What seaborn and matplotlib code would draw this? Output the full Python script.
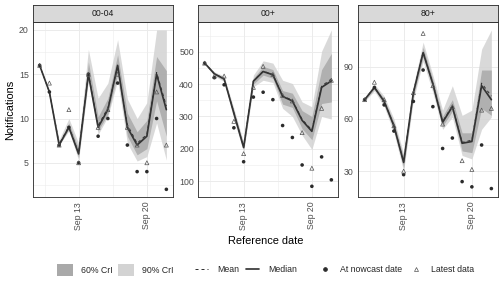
import numpy as np
import pandas as pd
import matplotlib
matplotlib.use("Agg")
import matplotlib.pyplot as plt
import matplotlib.dates as mdates
from matplotlib.patches import Patch
from matplotlib.lines import Line2D
import seaborn as sns

# ---------------- data ----------------
dates = pd.date_range("2021-09-09", "2021-09-22", freq="D")
groups = ["00-04", "00+", "80+"]

median_0004 = [16, 13, 7, 9, 6, 15, 9, 11, 16, 9, 7, 8, 15, 11]
mean_0004 = [16, 13, 7.1, 9.1, 6.1, 15.1, 9.2, 11.2, 15.9, 9.3, 7.2, 8.2, 15.2, 11.4]
lo90_0004 = [16, 13, 7, 8.6, 5.3, 14.2, 8.2, 10.2, 14.3, 7.2, 5.2, 5.7, 9.5, 5.3]
hi90_0004 = [16, 13, 7.6, 10, 7.2, 17.8, 12.3, 14, 18.9, 12.2, 10, 11.8, 20, 20]
lo60_0004 = [16, 13, 7, 8.8, 5.6, 14.6, 8.6, 10.5, 15, 8, 5.9, 6.6, 12, 8]
hi60_0004 = [16, 13, 7.3, 9.5, 6.6, 16.4, 10.2, 12.3, 17.2, 10.6, 8.5, 9.8, 17, 15.4]
nowcast_0004 = [16, 13, 7, 9, 5, 15, 8, 10, 14, 7, 4, 4, 10, 2]
latest_0004 = [16, 14, 7, 11, 5, 15, 9, 11, 15, 9, 7, 5, 13, 7]

median_00 = [465, 432, 416, 310, 204, 409, 439, 429, 362, 348, 288, 254, 390, 410]
mean_00 = [465, 432, 417, 311, 205, 410, 440, 430, 364, 350, 291, 258, 394, 416]
lo90_00 = [463, 425, 408, 290, 190, 392, 412, 405, 325, 300, 242, 198, 300, 292]
hi90_00 = [468, 438, 425, 325, 220, 428, 472, 465, 412, 402, 345, 330, 502, 568]
lo60_00 = [464, 428, 412, 300, 198, 400, 428, 418, 338, 328, 262, 228, 340, 345]
hi60_00 = [467, 435, 420, 318, 212, 418, 455, 445, 380, 372, 318, 300, 445, 495]
nowcast_00 = [465, 420, 398, 265, 160, 360, 375, 352, 272, 235, 150, 84, 175, 104]
latest_00 = [465, 425, 425, 285, 185, 390, 455, 430, 365, 348, 250, 140, 325, 412]

median_80 = [71, 78, 70, 56, 35, 75, 98, 80, 58, 67, 46, 47, 79, 71]
mean_80 = [71, 78, 70.3, 56.3, 35.3, 75.3, 98.3, 80.3, 58.5, 67.5, 46.5, 47.8, 80.5, 73]
lo90_80 = [70, 76, 67, 52, 30, 71, 93, 75, 54, 61, 39, 37, 54, 61]
hi90_80 = [72, 80, 73, 60, 40, 79, 104, 85, 65, 79, 62, 65, 100, 111]
lo60_80 = [70.5, 77, 68.5, 54, 32, 73, 95.5, 77.5, 55.8, 64.4, 41.6, 40.6, 66, 62]
hi60_80 = [71.5, 79, 71.5, 58, 38, 77, 101, 82.5, 61.5, 71, 52, 52, 88, 88]
nowcast_80 = [71, 78, 68, 53, 28, 70, 88, 67, 43, 49, 24, 21, 45, 20]
latest_80 = [71, 81, 71, 56, 30, 75, 109, 79, 57, 67, 36, 31, 65, 66]

panels = {
    "00-04": dict(median=median_0004, mean=mean_0004, lo90=lo90_0004, hi90=hi90_0004,
                  lo60=lo60_0004, hi60=hi60_0004, nowcast=nowcast_0004, latest=latest_0004,
                  yticks=[5, 10, 15, 20], yminor=[2.5, 7.5, 12.5, 17.5]),
    "00+": dict(median=median_00, mean=mean_00, lo90=lo90_00, hi90=hi90_00,
                lo60=lo60_00, hi60=hi60_00, nowcast=nowcast_00, latest=latest_00,
                yticks=[100, 200, 300, 400, 500], yminor=[50, 150, 250, 350, 450, 550]),
    "80+": dict(median=median_80, mean=mean_80, lo90=lo90_80, hi90=hi90_80,
                lo60=lo60_80, hi60=hi60_80, nowcast=nowcast_80, latest=latest_80,
                yticks=[30, 60, 90], yminor=[15, 45, 75, 105]),
}

# ---------------- style ----------------
sns.set_style("white")
plt.rcParams["font.family"] = ["Liberation Sans", "DejaVu Sans"]

W, H = 504, 288
fig = plt.figure(figsize=(W / 72, H / 72), dpi=72)

C90 = "#D3D3D3"
C60 = "#A9A9A9"
LINE = "#333333"
GRID = "#EBEBEB"
BORDER = "#333333"
TXT = "#4D4D4D"

lefts = [33.3, 198.3, 358.3]
pw = 139.4
ax_bottom, ax_top = 197.3, 22.0
strip_top = 5.0

x0 = dates[0] - pd.Timedelta(hours=15.6)
x1 = dates[-1] + pd.Timedelta(hours=15.6)

for g, left in zip(groups, lefts):
    d = panels[g]
    df = pd.DataFrame({"date": dates, "median": d["median"], "mean": d["mean"],
                       "lo90": d["lo90"], "hi90": d["hi90"], "lo60": d["lo60"],
                       "hi60": d["hi60"], "nowcast": d["nowcast"], "latest": d["latest"]})
    ax = fig.add_axes([left / W, 1 - ax_bottom / H, pw / W, (ax_bottom - ax_top) / H])
    ax.fill_between(df["date"], df["lo90"], df["hi90"], color=C90, alpha=0.85, lw=0, zorder=2)
    ax.fill_between(df["date"], df["lo60"], df["hi60"], color=C60, alpha=0.85, lw=0, zorder=3)
    sns.lineplot(data=df, x="date", y="mean", ax=ax, color=LINE, lw=1.0,
                 linestyle=(0, (3, 3)), zorder=4)
    sns.lineplot(data=df, x="date", y="median", ax=ax, color=LINE, lw=1.7, zorder=5)
    sns.scatterplot(data=df, x="date", y="nowcast", ax=ax, marker="o", s=13,
                    color="#2b2b2b", edgecolor="none", zorder=6)
    sns.scatterplot(data=df, x="date", y="latest", ax=ax, marker="^", s=16,
                    facecolor="none", edgecolor="#555555", linewidth=0.7, zorder=6)

    ymin = min(min(d["lo90"]), min(d["nowcast"]), min(d["latest"]))
    ymax = max(max(d["hi90"]), max(d["nowcast"]), max(d["latest"]))
    pad = (ymax - ymin) * 0.05
    ax.set_ylim(ymin - pad, ymax + pad)
    ax.set_xlim(x0, x1)

    ax.set_yticks(d["yticks"])
    ax.set_yticks(d["yminor"], minor=True)
    ax.set_xticks([pd.Timestamp("2021-09-13"), pd.Timestamp("2021-09-20")])
    ax.set_xticks([pd.Timestamp("2021-09-09 12:00"), pd.Timestamp("2021-09-16 12:00")], minor=True)
    ax.xaxis.set_major_formatter(mdates.DateFormatter("%b %d"))
    ax.grid(True, which="major", color=GRID, lw=1.0, zorder=0)
    ax.grid(True, which="minor", color=GRID, lw=0.5, zorder=0)
    ax.set_axisbelow(True)
    ax.tick_params(axis="both", which="major", length=3, width=0.8, color=BORDER,
                   labelsize=8.8, labelcolor=TXT, pad=1.5)
    ax.tick_params(axis="both", which="minor", length=0)
    for lab in ax.get_xticklabels():
        lab.set_rotation(90)
        lab.set_ha("center")
    ax.set_xlabel("")
    ax.set_ylabel("")
    for sp in ax.spines.values():
        sp.set_color(BORDER)
        sp.set_linewidth(0.9)

    sax = fig.add_axes([left / W, 1 - ax_top / H, pw / W, (ax_top - strip_top) / H])
    sax.set_facecolor("#D9D9D9")
    sax.set_xticks([])
    sax.set_yticks([])
    for sp in sax.spines.values():
        sp.set_color(BORDER)
        sp.set_linewidth(0.9)
    sax.text(0.5, 0.5, g, ha="center", va="center", fontsize=8.8, color="#1A1A1A",
             transform=sax.transAxes)

fig.text(10 / W, 1 - 110 / H, "Notifications", rotation=90, ha="center", va="center",
         fontsize=11, color="black")
fig.text(265.5 / W, 1 - 241 / H, "Reference date", ha="center", va="center",
         fontsize=11, color="black")

ly = 1 - 270 / H
h1 = [Patch(facecolor=C60, edgecolor="none"), Patch(facecolor=C90, edgecolor="none")]
leg1 = fig.legend(h1, ["60% CrI", "90% CrI"], loc="center left", bbox_to_anchor=(57 / W, ly),
                  ncol=2, frameon=False, fontsize=8.8, handlelength=1.85, handleheight=1.85,
                  handletextpad=0.9, columnspacing=0.6, borderpad=0, borderaxespad=0)
h2 = [Line2D([], [], color=LINE, lw=1.0, linestyle=(0, (3, 3))),
      Line2D([], [], color=LINE, lw=1.7)]
leg2 = fig.legend(h2, ["Mean", "Median"], loc="center left", bbox_to_anchor=(195 / W, ly),
                  ncol=2, frameon=False, fontsize=8.8, handlelength=1.5,
                  handletextpad=1.0, columnspacing=0.8, borderpad=0, borderaxespad=0)
h3 = [Line2D([], [], color="#2b2b2b", marker="o", markersize=3.6, linestyle="none"),
      Line2D([], [], color="#555555", marker="^", markersize=4, markerfacecolor="none",
             markeredgewidth=0.7, linestyle="none")]
leg3 = fig.legend(h3, ["At nowcast date", "Latest data"], loc="center left",
                  bbox_to_anchor=(320.6 / W, ly), ncol=2, frameon=False, fontsize=8.8,
                  handlelength=1.0, handletextpad=1.2, columnspacing=1.1,
                  borderpad=0, borderaxespad=0)

fig.savefig("out.png", dpi=72)
